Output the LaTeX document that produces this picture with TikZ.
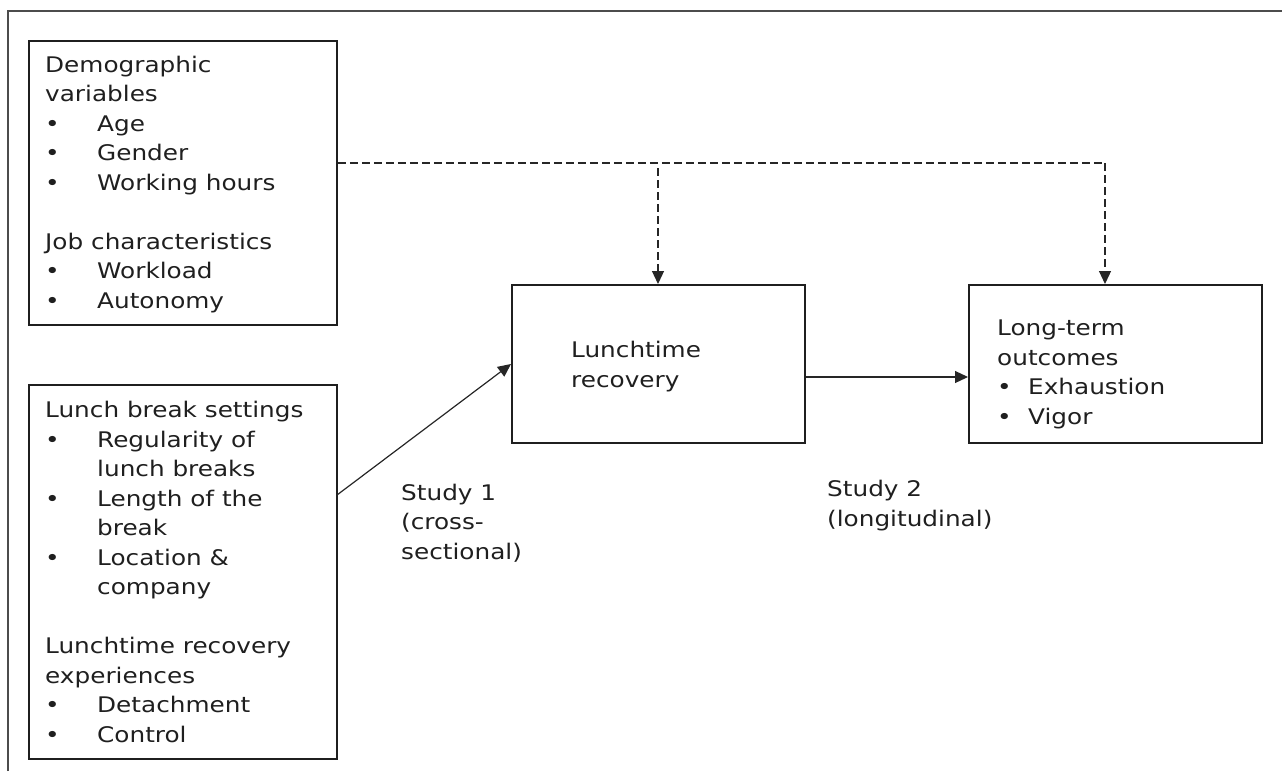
\documentclass[tikz,border=0pt]{standalone}
\usepackage{fontspec}
\setmainfont{DejaVu Sans}[FakeStretch=1.15]
\usetikzlibrary{arrows.meta}
\newcommand{\bitem}[2][52pt]{\makebox[#1][l]{•}#2}
\begin{document}
\begin{tikzpicture}[x=1pt,y=-1pt,
  box/.style={draw=black!88, line width=1.8pt, inner sep=0pt, anchor=north west},
  txt/.style={anchor=base west, align=left, inner sep=0pt,
    font=\fontsize{21.5}{29.5}\selectfont, text=black!88},
  conn/.style={draw=black!85, line width=1.2pt, -{Triangle[length=13pt,width=12pt]}},
  dconn/.style={conn, dash pattern=on 8pt off 4pt},
  frame/.style={draw=black!70, line width=1.5pt}]
\useasboundingbox (0,0) rectangle (1282,771);
\draw[frame] (8,771) -- (8,11) -- (1282,11);

\node[box, minimum width=308pt, minimum height=284pt] (b1) at (28,40) {};
\node[box, minimum width=308pt, minimum height=374pt] (b2) at (28,384) {};
\node[box, minimum width=293pt, minimum height=158pt] (b3) at (511,284) {};
\node[box, minimum width=293pt, minimum height=158pt] (b4) at (968,284) {};

% anchors are at the baseline of the last line of each text
\node[txt] (t1) at (45,308) {Demographic\\variables\\\bitem{Age}\\\bitem{Gender}\\\bitem{Working hours}\\[29.5pt]Job characteristics\\\bitem{Workload}\\\bitem{Autonomy}};
\node[txt] (t2) at (45,742) {Lunch break settings\\\bitem{Regularity of}\\\hspace*{52pt}lunch breaks\\\bitem{Length of the}\\\hspace*{52pt}break\\\bitem{Location \&}\\\hspace*{52pt}company\\[29.5pt]Lunchtime recovery\\experiences\\\bitem{Detachment}\\\bitem{Control}};
\node[txt] (t3) at (571,387) {Lunchtime\\recovery};
\node[txt] (t4) at (997,424) {Long-term\\outcomes\\\bitem[31pt]{Exhaustion}\\\bitem[31pt]{Vigor}};
\node[txt] (s1) at (401,559) {Study 1\\(cross-\\sectional)};
\node[txt] (s2) at (827,526) {Study 2\\(longitudinal)};

\coordinate (c1) at (1105,163);
\coordinate (c2) at (658,168);
\draw[draw=black!85, line width=1.2pt, dash pattern=on 8pt off 4pt] (b1.east |- c1) -- (c1);
\draw[dconn] (c1) -- (b4.north -| c1);
\draw[dconn] (c2) -- (b3.north -| c2);
\draw[conn] (337,495) -- (b3.west |- 0,364);
\draw[conn] (b3.east |- 0,377) -- (b4.west |- 0,377);
\end{tikzpicture}
\end{document}
